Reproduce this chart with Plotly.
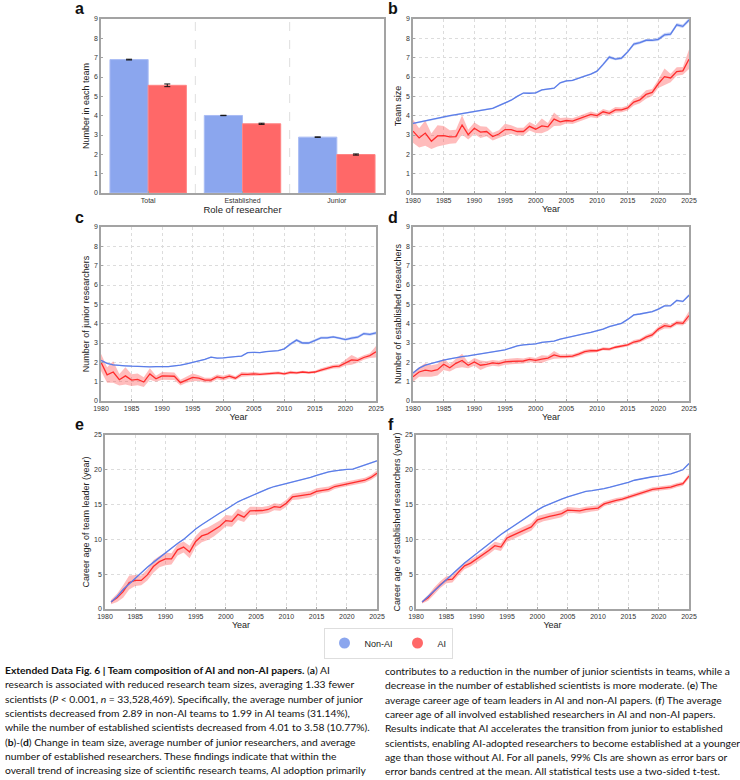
import plotly.graph_objects as go

# ---------------- data ----------------
years = list(range(1980, 2026))
years_age = list(range(1981, 2026))

roles = ["Total", "Established", "Junior"]
bar_nonai = [6.90, 4.01, 2.89]
bar_ai = [5.57, 3.58, 1.99]
bar_nonai_err = [0.02, 0.01, 0.01]
bar_ai_err = [0.07, 0.03, 0.03]

size_nonai = [3.60, 3.67, 3.74, 3.81, 3.88, 3.95, 4.00, 4.05, 4.10, 4.15,
              4.20, 4.25, 4.31, 4.38, 4.52, 4.66, 4.80, 5.00, 5.17, 5.16,
              5.18, 5.33, 5.37, 5.42, 5.70, 5.80, 5.82, 5.95, 6.05, 6.15,
              6.30, 6.65, 7.03, 6.93, 6.98, 7.30, 7.70, 7.78, 7.90, 7.90,
              7.95, 8.18, 8.22, 8.70, 8.62, 8.95]
size_nonai_ci = [0.04, 0.04, 0.04, 0.04, 0.04, 0.04, 0.04, 0.04, 0.04, 0.04,
                 0.04, 0.04, 0.04, 0.04, 0.04, 0.04, 0.04, 0.04, 0.04, 0.04,
                 0.04, 0.04, 0.04, 0.04, 0.04, 0.04, 0.04, 0.04, 0.04, 0.04,
                 0.05, 0.07, 0.08, 0.07, 0.07, 0.07, 0.08, 0.07, 0.07, 0.07,
                 0.09, 0.09, 0.09, 0.09, 0.09, 0.10]
size_ai = [3.20, 2.85, 3.10, 2.68, 2.95, 2.97, 2.90, 2.92, 3.52, 3.02,
           3.35, 3.15, 3.18, 2.92, 3.05, 3.28, 3.28, 3.18, 3.18, 3.45,
           3.30, 3.47, 3.42, 3.82, 3.68, 3.75, 3.72, 3.85, 3.97, 4.07,
           4.00, 4.20, 4.12, 4.30, 4.30, 4.40, 4.70, 4.82, 5.10, 5.20,
           5.65, 6.02, 5.95, 6.28, 6.32, 6.92]
size_ai_ci = [0.60, 0.50, 0.65, 0.40, 0.55, 0.50, 0.35, 0.35, 0.50, 0.25,
              0.30, 0.30, 0.25, 0.20, 0.20, 0.30, 0.22, 0.20, 0.20, 0.22,
              0.20, 0.38, 0.20, 0.35, 0.20, 0.16, 0.15, 0.15, 0.15, 0.15,
              0.13, 0.15, 0.13, 0.15, 0.12, 0.13, 0.18, 0.18, 0.22, 0.18,
              0.22, 0.42, 0.22, 0.22, 0.20, 0.50]

junior_nonai = [2.10, 1.95, 1.87, 1.83, 1.82, 1.80, 1.78, 1.77, 1.77, 1.78,
                1.78, 1.78, 1.82, 1.85, 1.92, 2.00, 2.05, 2.15, 2.27, 2.22,
                2.23, 2.28, 2.30, 2.32, 2.50, 2.52, 2.50, 2.55, 2.57, 2.60,
                2.70, 2.95, 3.15, 3.00, 3.00, 3.12, 3.27, 3.27, 3.32, 3.25,
                3.18, 3.25, 3.30, 3.48, 3.45, 3.52]
junior_nonai_ci = [0.03, 0.03, 0.03, 0.03, 0.03, 0.03, 0.03, 0.03, 0.03, 0.03,
                   0.03, 0.03, 0.03, 0.03, 0.03, 0.03, 0.03, 0.03, 0.03, 0.03,
                   0.03, 0.03, 0.03, 0.03, 0.03, 0.03, 0.03, 0.03, 0.03, 0.03,
                   0.04, 0.06, 0.07, 0.06, 0.06, 0.06, 0.06, 0.06, 0.06, 0.06,
                   0.07, 0.07, 0.07, 0.07, 0.07, 0.08]
junior_ai = [2.00, 1.35, 1.50, 1.10, 1.30, 1.08, 1.12, 0.98, 1.40, 1.15,
             1.30, 1.28, 1.28, 0.95, 1.10, 1.22, 1.18, 1.08, 1.08, 1.25,
             1.18, 1.28, 1.18, 1.38, 1.38, 1.40, 1.38, 1.40, 1.42, 1.45,
             1.40, 1.48, 1.45, 1.50, 1.47, 1.50, 1.60, 1.68, 1.78, 1.80,
             1.98, 2.13, 2.10, 2.25, 2.35, 2.55]
junior_ai_ci = [0.45, 0.40, 0.55, 0.30, 0.45, 0.30, 0.30, 0.25, 0.30, 0.15,
                0.20, 0.20, 0.20, 0.15, 0.15, 0.20, 0.15, 0.12, 0.12, 0.12,
                0.12, 0.12, 0.10, 0.12, 0.10, 0.10, 0.08, 0.08, 0.08, 0.08,
                0.07, 0.08, 0.07, 0.07, 0.07, 0.07, 0.09, 0.09, 0.10, 0.10,
                0.15, 0.25, 0.12, 0.12, 0.12, 0.30]

estab_nonai = [1.45, 1.70, 1.85, 1.95, 2.05, 2.12, 2.18, 2.25, 2.30, 2.33,
               2.38, 2.43, 2.47, 2.52, 2.58, 2.65, 2.75, 2.85, 2.90, 2.93,
               2.95, 3.03, 3.07, 3.10, 3.20, 3.28, 3.32, 3.42, 3.48, 3.55,
               3.62, 3.72, 3.85, 3.92, 4.02, 4.22, 4.45, 4.50, 4.55, 4.62,
               4.75, 4.92, 4.93, 5.20, 5.15, 5.47]
estab_nonai_ci = [0.03, 0.03, 0.03, 0.03, 0.03, 0.03, 0.03, 0.03, 0.03, 0.03,
                  0.03, 0.03, 0.03, 0.03, 0.03, 0.03, 0.03, 0.03, 0.03, 0.03,
                  0.03, 0.03, 0.03, 0.03, 0.03, 0.03, 0.03, 0.03, 0.03, 0.03,
                  0.03, 0.04, 0.04, 0.04, 0.04, 0.04, 0.04, 0.04, 0.04, 0.04,
                  0.05, 0.05, 0.05, 0.05, 0.05, 0.06]
estab_ai = [1.25, 1.50, 1.60, 1.55, 1.62, 1.90, 1.72, 1.95, 2.10, 1.85,
            2.02, 1.85, 1.90, 1.97, 1.93, 2.02, 2.05, 2.07, 2.07, 2.15,
            2.10, 2.17, 2.22, 2.38, 2.30, 2.30, 2.32, 2.42, 2.55, 2.60,
            2.60, 2.70, 2.68, 2.78, 2.85, 2.90, 3.05, 3.12, 3.30, 3.42,
            3.72, 3.90, 3.85, 4.05, 4.02, 4.42]
estab_ai_ci = [0.25, 0.25, 0.35, 0.30, 0.30, 0.30, 0.20, 0.25, 0.35, 0.15,
               0.20, 0.25, 0.15, 0.15, 0.15, 0.15, 0.15, 0.15, 0.13, 0.13,
               0.13, 0.20, 0.12, 0.20, 0.10, 0.10, 0.10, 0.10, 0.10, 0.10,
               0.08, 0.08, 0.08, 0.08, 0.08, 0.08, 0.10, 0.10, 0.12, 0.12,
               0.12, 0.15, 0.10, 0.12, 0.12, 0.22]

leader_nonai = [1.0, 1.8, 2.8, 3.6, 4.5, 5.3, 6.0, 6.7, 7.4,
                8.0, 8.7, 9.4, 10.0, 10.8, 11.5, 12.1, 12.7, 13.3, 13.8,
                14.3, 14.9, 15.4, 15.8, 16.2, 16.6, 16.9, 17.3, 17.6, 17.8,
                18.0, 18.3, 18.5, 18.7, 18.9, 19.2, 19.5, 19.7, 19.85, 20.0,
                20.05, 20.1, 20.4, 20.7, 20.95, 21.3]
leader_nonai_ci = [0.05, 0.08, 0.08, 0.08, 0.08, 0.08, 0.08, 0.08, 0.08,
                   0.08, 0.08, 0.08, 0.08, 0.08, 0.08, 0.08, 0.08, 0.08, 0.08,
                   0.08, 0.08, 0.08, 0.08, 0.08, 0.08, 0.08, 0.08, 0.08, 0.08,
                   0.08, 0.08, 0.08, 0.08, 0.08, 0.08, 0.08, 0.08, 0.08, 0.08,
                   0.08, 0.08, 0.08, 0.08, 0.08, 0.10]
leader_ai = [1.0, 1.6, 2.5, 3.8, 4.1, 4.1, 4.9, 6.1, 6.8,
             7.2, 7.2, 8.5, 8.9, 8.2, 9.7, 10.5, 10.8, 11.3, 11.9,
             12.7, 12.6, 13.6, 13.2, 14.1, 14.1, 14.15, 14.3, 14.7, 14.6,
             15.2, 16.1, 16.2, 16.3, 16.5, 16.9, 17.1, 17.2, 17.6, 17.8,
             18.0, 18.2, 18.3, 18.5, 18.9, 19.5]
leader_ai_ci = [0.3, 0.6, 0.9, 1.0, 0.8, 0.7, 0.8, 0.9, 0.8,
                0.9, 0.8, 0.8, 0.8, 0.9, 0.8, 0.9, 0.9, 0.9, 0.8,
                0.8, 0.8, 0.8, 0.7, 0.6, 0.55, 0.5, 0.5, 0.5, 0.5,
                0.5, 0.45, 0.45, 0.45, 0.45, 0.45, 0.4, 0.4, 0.35, 0.35,
                0.35, 0.35, 0.35, 0.35, 0.35, 0.4]

estage_nonai = [1.0, 1.8, 2.7, 3.5, 4.3, 5.1, 5.9, 6.6, 7.3,
                8.0, 8.7, 9.4, 10.1, 10.7, 11.3, 11.9, 12.5, 13.1, 13.6,
                14.2, 14.7, 15.1, 15.5, 15.8, 16.1, 16.4, 16.7, 16.9, 17.0,
                17.1, 17.3, 17.5, 17.7, 17.9, 18.2, 18.5, 18.7, 18.9, 19.0,
                19.1, 19.2, 19.4, 19.7, 20.0, 20.9]
estage_nonai_ci = [0.05, 0.07, 0.07, 0.07, 0.07, 0.07, 0.07, 0.07, 0.07,
                   0.07, 0.07, 0.07, 0.07, 0.07, 0.07, 0.07, 0.07, 0.07, 0.07,
                   0.07, 0.07, 0.07, 0.07, 0.07, 0.07, 0.07, 0.07, 0.07, 0.07,
                   0.07, 0.07, 0.07, 0.07, 0.07, 0.07, 0.07, 0.07, 0.07, 0.07,
                   0.07, 0.07, 0.07, 0.07, 0.07, 0.09]
estage_ai = [1.0, 1.6, 2.6, 3.5, 4.2, 4.3, 5.3, 6.2, 6.6,
             7.2, 7.7, 8.4, 9.1, 8.9, 10.2, 10.6, 11.0, 11.4, 11.8,
             12.8, 13.1, 13.3, 13.5, 13.7, 14.2, 14.2, 14.1, 14.3, 14.4,
             14.5, 15.1, 15.4, 15.6, 15.8, 16.1, 16.4, 16.6, 16.9, 17.2,
             17.3, 17.4, 17.5, 17.8, 18.0, 19.1]
estage_ai_ci = [0.2, 0.4, 0.5, 0.5, 0.5, 0.5, 0.5, 0.5, 0.5,
                0.5, 0.5, 0.55, 0.55, 0.55, 0.55, 0.55, 0.55, 0.55, 0.55,
                0.55, 0.5, 0.5, 0.5, 0.5, 0.45, 0.4, 0.4, 0.4, 0.4,
                0.4, 0.35, 0.35, 0.35, 0.3, 0.3, 0.3, 0.3, 0.3, 0.3,
                0.3, 0.3, 0.3, 0.3, 0.3, 0.35]

year_ticks = [1980, 1985, 1990, 1995, 2000, 2005, 2010, 2015, 2020, 2025]

caption_left = [
    "<b>Extended Data Fig. 6 | Team composition of AI and non-AI papers.</b> (<b>a</b>) AI",
    "research is associated with reduced research team sizes, averaging 1.33 fewer",
    "scientists (<i>P</i> < 0.001, <i>n</i> = 33,528,469). Specifically, the average number of junior",
    "scientists decreased from 2.89 in non-AI teams to 1.99 in AI teams (31.14%),",
    "while the number of established scientists decreased from 4.01 to 3.58 (10.77%).",
    "(<b>b</b>)-(<b>d</b>) Change in team size, average number of junior researchers, and average",
    "number of established researchers. These findings indicate that within the",
    "overall trend of increasing size of scientific research teams, AI adoption primarily",
]
caption_right = [
    "contributes to a reduction in the number of junior scientists in teams, while a",
    "decrease in the number of established scientists is more moderate. (<b>e</b>) The",
    "average career age of team leaders in AI and non-AI papers. (<b>f</b>) The average",
    "career age of all involved established researchers in AI and non-AI papers.",
    "Results indicate that AI accelerates the transition from junior to established",
    "scientists, enabling AI-adopted researchers to become established at a younger",
    "age than those without AI. For all panels, 99% CIs are shown as error bars or",
    "error bands centred at the mean. All statistical tests use a two-sided t-test.",
]

# ---------------- styling ----------------
W, H = 740, 780
BLUE_BAR = "#8ba6ee"
RED_BAR = "#ff6868"
BLUE_LINE = "#5b7de8"
RED_LINE = "#ff2b2b"
BLUE_BAND = "rgba(91,125,232,0.35)"
RED_BAND = "rgba(255,80,80,0.38)"
AXIS_FONT = "Liberation Sans, Arial, sans-serif"


def px_x(a, b):
    return [a / W, b / W]


def px_y(top, bottom):
    return [1 - bottom / H, 1 - top / H]


fig = go.Figure()

# panel a: bars
fig.add_trace(go.Bar(x=roles, y=bar_nonai, xaxis="x", yaxis="y",
                     marker=dict(color=BLUE_BAR, line=dict(color="#a9bcf4", width=1)),
                     error_y=dict(type="data", array=bar_nonai_err, color="#111",
                                  thickness=1, width=3),
                     showlegend=False))
fig.add_trace(go.Bar(x=roles, y=bar_ai, xaxis="x", yaxis="y",
                     marker=dict(color=RED_BAR, line=dict(color="#ff8585", width=1)),
                     error_y=dict(type="data", array=bar_ai_err, color="#111",
                                  thickness=1, width=3),
                     showlegend=False))


def add_band(xs, mean, ci, xa, ya, band_color):
    lo = [m - c for m, c in zip(mean, ci)]
    hi = [m + c for m, c in zip(mean, ci)]
    fig.add_trace(go.Scatter(x=xs, y=lo, xaxis=xa, yaxis=ya, mode="lines",
                             line=dict(width=0, color=band_color),
                             showlegend=False, hoverinfo="skip"))
    fig.add_trace(go.Scatter(x=xs, y=hi, xaxis=xa, yaxis=ya, mode="lines",
                             line=dict(width=0, color=band_color), fill="tonexty",
                             fillcolor=band_color, showlegend=False, hoverinfo="skip"))


def add_line(xs, mean, xa, ya, color):
    fig.add_trace(go.Scatter(x=xs, y=mean, xaxis=xa, yaxis=ya, mode="lines",
                             line=dict(width=1.3, color=color), showlegend=False))


panels = [
    (years, size_nonai, size_nonai_ci, size_ai, size_ai_ci, "x2", "y2"),
    (years, junior_nonai, junior_nonai_ci, junior_ai, junior_ai_ci, "x3", "y3"),
    (years, estab_nonai, estab_nonai_ci, estab_ai, estab_ai_ci, "x4", "y4"),
    (years_age, leader_nonai, leader_nonai_ci, leader_ai, leader_ai_ci, "x5", "y5"),
    (years_age, estage_nonai, estage_nonai_ci, estage_ai, estage_ai_ci, "x6", "y6"),
]
for xs, bn, bnc, ra, rac, xa, ya in panels:
    add_band(xs, ra, rac, xa, ya, RED_BAND)
    add_band(xs, bn, bnc, xa, ya, BLUE_BAND)
    add_line(xs, ra, xa, ya, RED_LINE)
    add_line(xs, bn, xa, ya, BLUE_LINE)

# legend dummies
fig.add_trace(go.Scatter(x=[None], y=[None], xaxis="x2", yaxis="y2", mode="markers",
                         marker=dict(color=BLUE_BAR, size=11), name="Non-AI",
                         legendrank=1))
fig.add_trace(go.Scatter(x=[None], y=[None], xaxis="x2", yaxis="y2", mode="markers",
                         marker=dict(color=RED_BAR, size=11), name="AI",
                         legendrank=2))

axis_common = dict(showline=True, mirror=True, linecolor="#a3a3a3", linewidth=1.5,
                   zeroline=False, ticks="inside", ticklen=2, tickcolor="#a3a3a3",
                   automargin=False,
                   tickfont=dict(family=AXIS_FONT, size=7, color="#333"))
grid = dict(showgrid=True, gridcolor="#dcdcdc", griddash="dot", gridwidth=1)


def xtitle(t, size=9):
    return dict(text=t, font=dict(family=AXIS_FONT, size=size, color="#222"), standoff=2)


def ytitle(t):
    return dict(text=t, font=dict(family=AXIS_FONT, size=9, color="#222"), standoff=3)


domains = {
    "a": (px_x(101, 384), px_y(19, 193)),
    "b": (px_x(413, 689), px_y(19, 193)),
    "c": (px_x(101, 376), px_y(227, 401)),
    "d": (px_x(413, 689), px_y(227, 401)),
    "e": (px_x(105, 377), px_y(435, 609)),
    "f": (px_x(416, 689), px_y(435, 609)),
}

layout = dict(
    template="none",
    width=W, height=H, margin=dict(l=0, r=0, t=0, b=0, pad=0, autoexpand=False),
    paper_bgcolor="white", plot_bgcolor="white",
    font=dict(family=AXIS_FONT, color="#222"),
    barmode="group", bargap=0.19, bargroupgap=0,
    showlegend=True,
    legend=dict(orientation="h", x=388 / W, y=1 - 643 / H, xanchor="center",
                yanchor="middle", bordercolor="#dedede", borderwidth=1,
                traceorder="normal",
                font=dict(family=AXIS_FONT, size=9, color="#222"),
                itemwidth=30, tracegroupgap=0, bgcolor="white"),
)

layout["xaxis"] = dict(domain=domains["a"][0], anchor="y", type="category",
                       range=[-0.5, 2.5], showgrid=False,
                       title=xtitle("Role of researcher", 9.5), **axis_common)
layout["yaxis"] = dict(domain=domains["a"][1], anchor="x", range=[0, 9], dtick=1,
                       showgrid=False, title=ytitle("Number in each team"), **axis_common)

specs = [
    ("2", "b", [0, 9], 1, "Team size"),
    ("3", "c", [0, 9], 1, "Number of junior researchers"),
    ("4", "d", [0, 9], 1, "Number of established researchers"),
    ("5", "e", [0, 25], 5, "Career age of team leader (year)"),
    ("6", "f", [0, 25], 5, "Career age of established researchers (year)"),
]
for n, key, yr, dt, yt in specs:
    layout["xaxis" + n] = dict(domain=domains[key][0], anchor="y" + n, range=[1980, 2025],
                               tickvals=year_ticks, title=xtitle("Year"),
                               **axis_common, **grid)
    layout["yaxis" + n] = dict(domain=domains[key][1], anchor="x" + n, range=yr, dtick=dt,
                               title=ytitle(yt), **axis_common, **grid)

fig.update_layout(**layout)

# separators in panel a
for xv in [0.5, 1.5]:
    fig.add_shape(type="line", xref="x", yref="y domain", x0=xv, x1=xv, y0=0, y1=1,
                  line=dict(color="#d6d6d6", width=0.8, dash="dash"), layer="below")

# panel letters
letters = [("a", 73, 9), ("b", 386, 9), ("c", 73, 217), ("d", 386, 217),
           ("e", 73, 425), ("f", 386, 425)]
for t, xp, yp in letters:
    fig.add_annotation(text="<b>%s</b>" % t, x=xp / W, y=1 - yp / H, xref="paper",
                       yref="paper", xanchor="left", yanchor="middle", showarrow=False,
                       font=dict(family=AXIS_FONT, size=16, color="#111"))

# caption
CAP_FONT = "Lato, Noto Sans, sans-serif"
for i, line in enumerate(caption_left):
    fig.add_annotation(text=line, x=3 / W, y=1 - (670 + 14.3 * i) / H, xref="paper",
                       yref="paper", xanchor="left", yanchor="middle", showarrow=False,
                       font=dict(family=CAP_FONT, size=10.3, color="#111"))
for i, line in enumerate(caption_right):
    fig.add_annotation(text=line, x=383 / W, y=1 - (671 + 14.3 * i) / H, xref="paper",
                       yref="paper", xanchor="left", yanchor="middle", showarrow=False,
                       font=dict(family=CAP_FONT, size=10.3, color="#111"))

fig.write_html("out.html", config={"displayModeBar": False},
               post_script="document.body.style.margin='0';"
                           "document.body.style.overflow='hidden';")
